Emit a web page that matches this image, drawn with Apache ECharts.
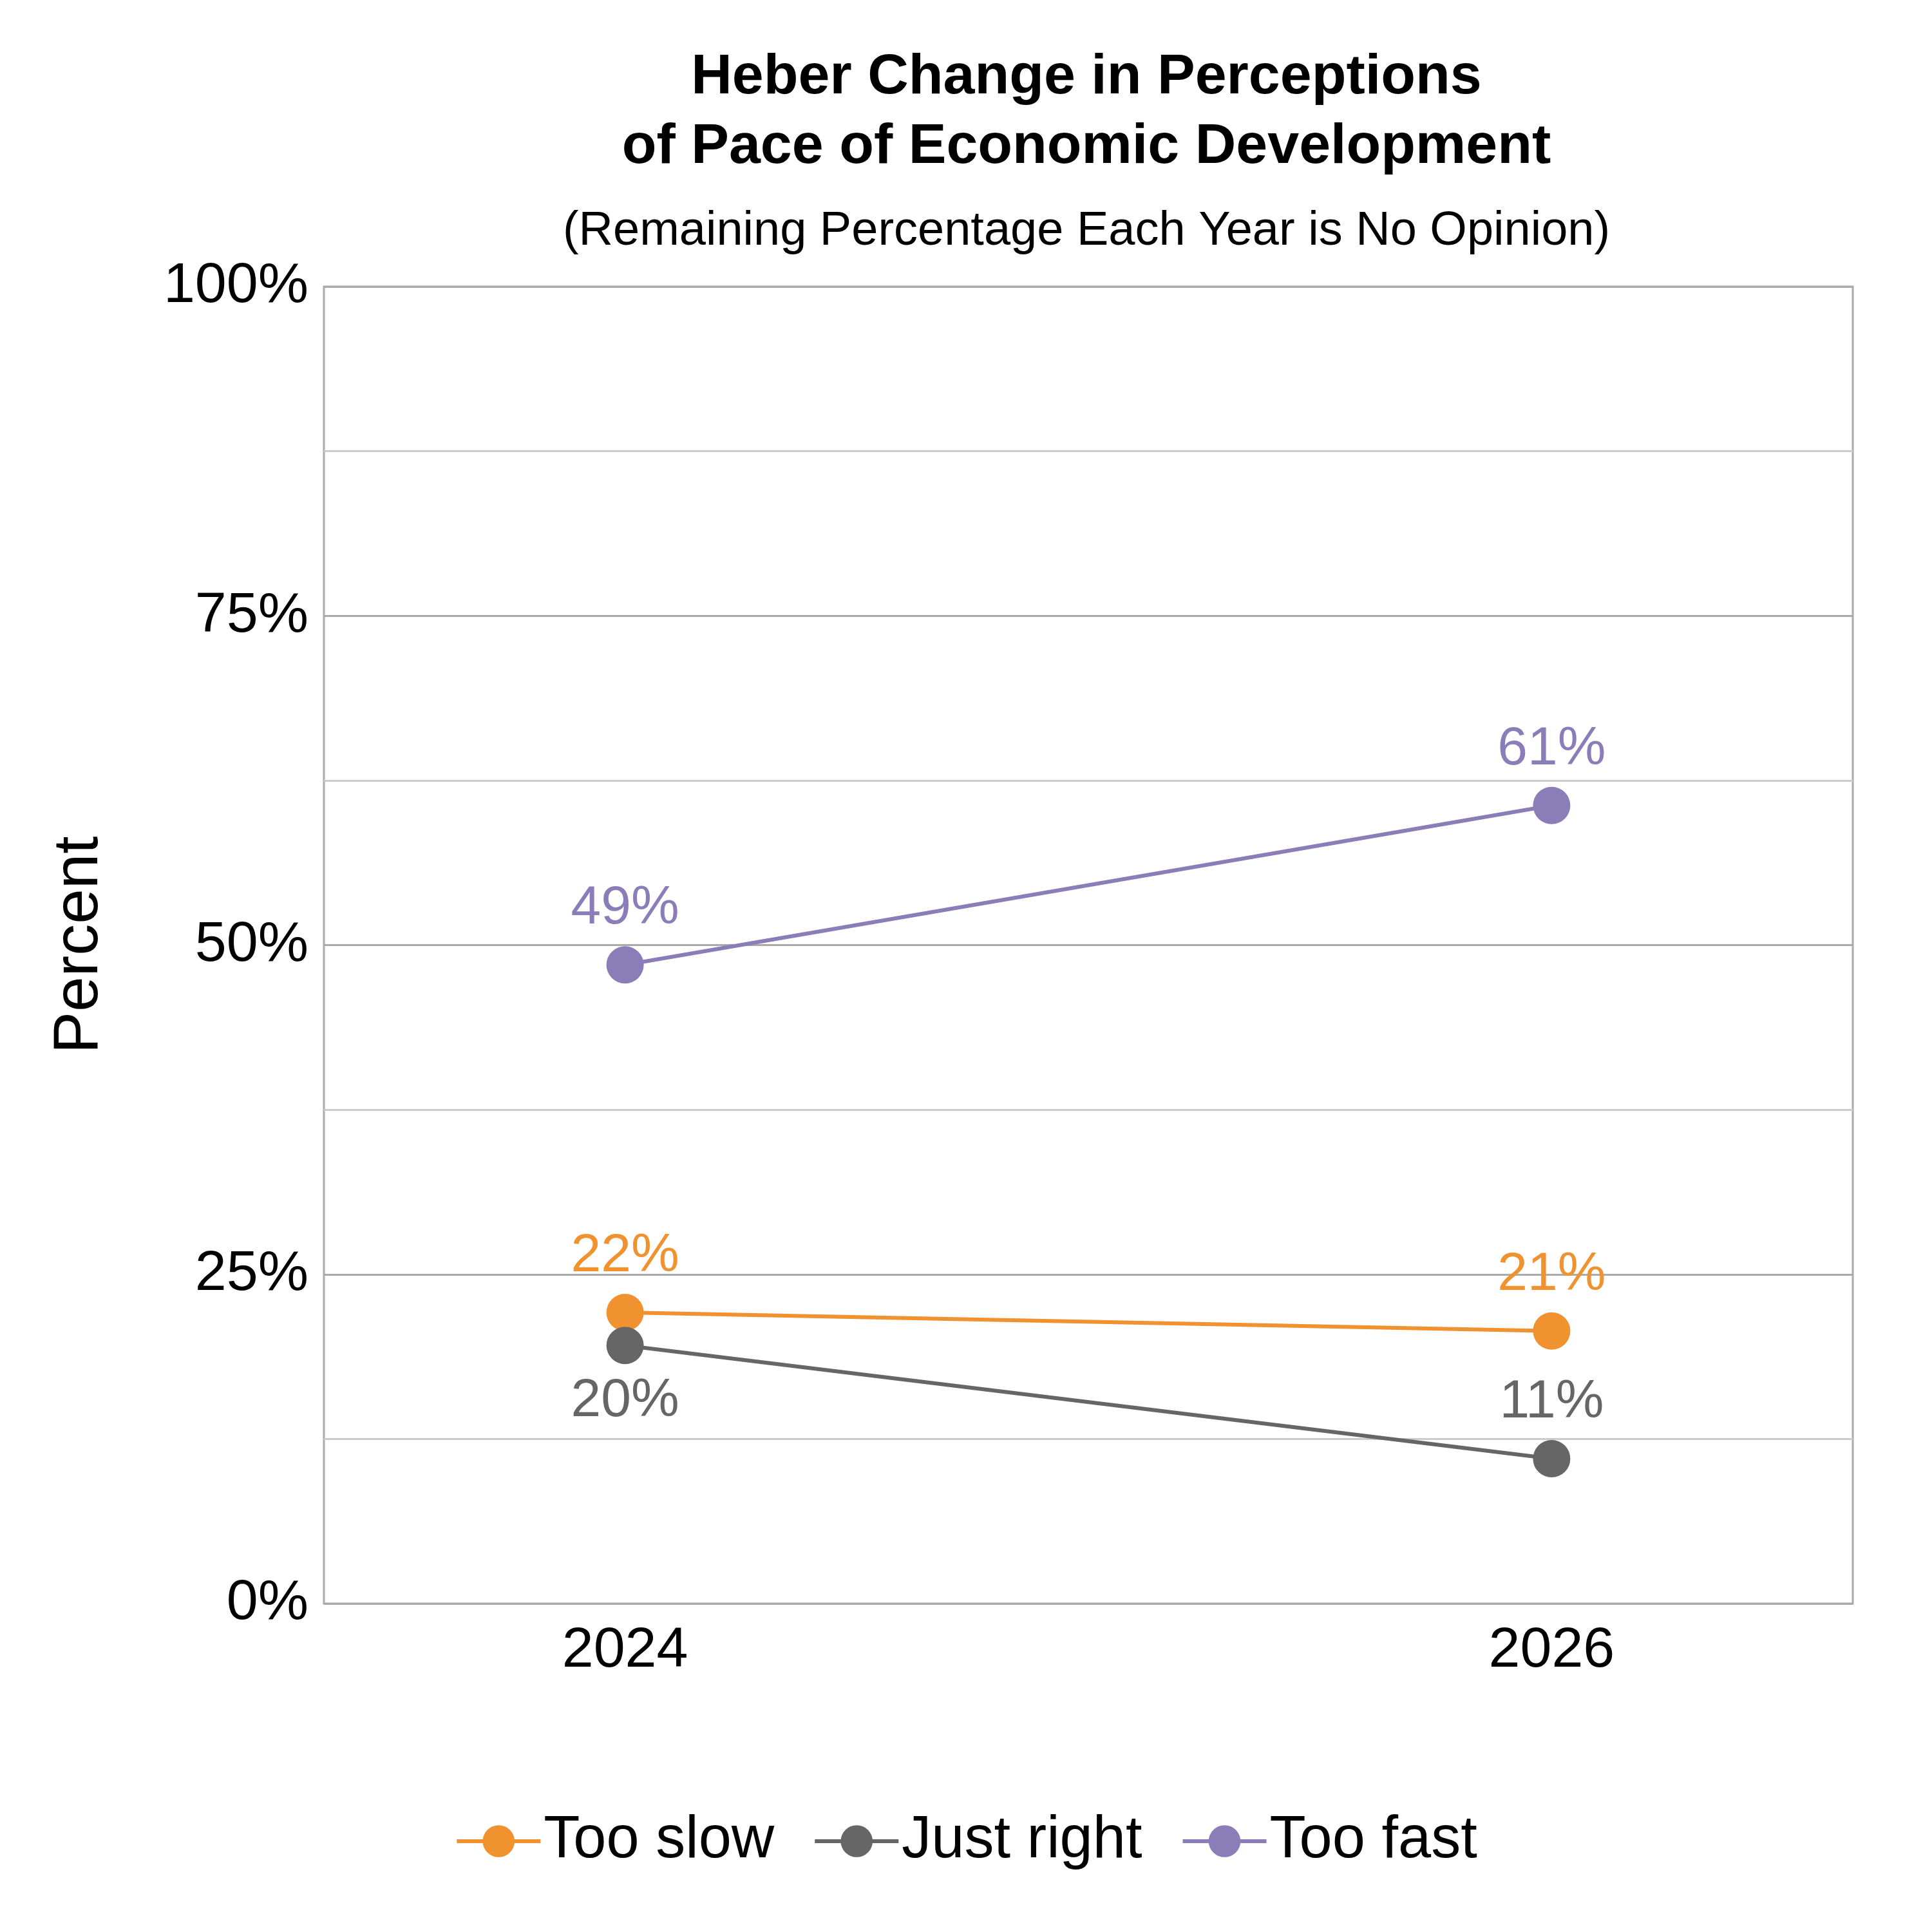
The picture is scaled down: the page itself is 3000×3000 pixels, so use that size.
<!DOCTYPE html><html><head><meta charset="utf-8">
<script src="https://cdn.jsdelivr.net/npm/echarts@6/dist/echarts.min.js"></script>
<style>html,body{margin:0;padding:0}#c{width:3000px;height:3000px}</style></head><body><div id="c"></div>
<script>
const years=[2024,2026];
const tooSlow=[22.1,20.7];
const justRight=[19.6,11.0];
const tooFast=[48.5,60.6];
const yTicks=[0,25,50,75,100];
const F='Liberation Sans, Arial, sans-serif';
function mk(name,vals,color,positions){
 return {name,type:'line',data:vals.map((v,i)=>({value:[years[i],v],label:{position:positions[i]}})),
  symbol:'circle',symbolSize:58,lineStyle:{width:6,color},itemStyle:{color},
  label:{show:true,fontSize:84,fontFamily:F,color,distance:16,formatter:p=>Math.round(p.value[1])+'%'}};
}
const ch=echarts.init(document.getElementById('c'));
ch.setOption({
 animation:false,backgroundColor:'#fff',
 title:[{text:'Heber Change in Perceptions\nof Pace of Economic Development',left:1682,top:62,textAlign:'center',
   textStyle:{fontSize:88,fontWeight:'bold',fontFamily:F,color:'#000',lineHeight:108}},
  {text:'(Remaining Percentage Each Year is No Opinion)',left:1682,top:318,textAlign:'center',
   textStyle:{fontSize:74,fontWeight:'normal',fontFamily:F,color:'#000'}}],
 grid:{left:503,right:80,top:449,bottom:476,show:true,borderColor:'#aaa',borderWidth:3},
 legend:{bottom:90,left:'center',itemWidth:130,itemHeight:62,itemGap:60,textStyle:{fontSize:92,fontFamily:F,color:'#000'},
   itemStyle:{},lineStyle:{width:6},
   data:['Too slow','Just right','Too fast']},
 xAxis:{type:'value',min:2023.35,max:2026.65,axisLine:{show:false},axisTick:{show:false},splitLine:{show:false},
   axisLabel:{customValues:years,fontSize:88,fontFamily:F,color:'#000',margin:30,formatter:v=>String(v)}},
 yAxis:{type:'value',min:0,max:100,interval:12.5,name:'Percent',nameLocation:'middle',nameGap:330,
   nameTextStyle:{fontSize:98,fontFamily:F,color:'#000'},axisLine:{show:false},axisTick:{show:false},
   axisLabel:{fontSize:88,fontFamily:F,color:'#000',margin:24,formatter:v=>yTicks.includes(v)?v+'%':''},
   splitLine:{lineStyle:{color:['#aaa','#ccc'],width:3}}},
 series:[mk('Too slow',tooSlow,'#F0922F',['top','top']),
  mk('Just right',justRight,'#666666',['bottom','top']),
  mk('Too fast',tooFast,'#8A7DB8',['top','top'])]
});
ch.setOption({grid:{right:123,bottom:510,top:445}});
</script></body></html>
